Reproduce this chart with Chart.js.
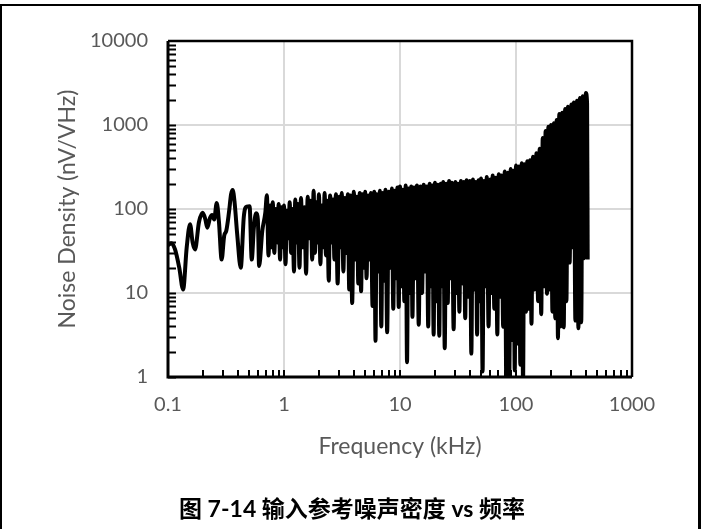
<!DOCTYPE html>
<html>
<head>
<meta charset="utf-8">
<script src="https://cdn.jsdelivr.net/npm/chart.js@4.4.1/dist/chart.umd.min.js"></script>
<style>
  html, body { margin: 0; padding: 0; background: #fff; overflow: hidden; }
  #fig { position: relative; width: 704px; height: 529px; overflow: hidden; }
  #frame { position: absolute; left: 0; top: 4px; width: 701px; height: 600px; box-sizing: border-box;
           border: 2px solid #000; border-right-width: 3px; border-bottom: none; }
  #noise-chart { position: absolute; left: 0; top: 0; }
  #caption { position: absolute; left: 0; top: 490px; width: 704px; line-height: 30px; text-align: center;
             font: bold 23px "Lato", "Noto Sans CJK SC", sans-serif; color: #000; }
</style>
</head>
<body>
<div id="fig">
  <div id="frame"></div>
  <canvas id="noise-chart" width="704" height="529"></canvas>
  <div id="caption">图 7-14 输入参考噪声密度 vs 频率</div>
</div>
<script>
// Input-referred noise density vs frequency, log-log
const xTicks = [0.1, 1, 10, 100, 1000];
const yTicks = [1, 10, 100, 1000, 10000];
const xDecades = [0.1, 1, 10, 100];
const yDecades = [1, 10, 100, 1000];
const minorSteps = [1, 2, 3, 4, 5, 6, 7, 8, 9];

// 0.1 .. 0.78 kHz : single visible trace
const freqA = [0.100, 0.107, 0.115, 0.125, 0.135, 0.145, 0.155, 0.163, 0.171, 0.185, 0.199, 0.210, 0.218, 0.230,
  0.240, 0.250, 0.263, 0.275, 0.290, 0.305, 0.318, 0.335, 0.350, 0.361, 0.375, 0.395, 0.424, 0.450, 0.477, 0.505,
  0.527, 0.550, 0.574, 0.595, 0.610, 0.650, 0.690, 0.712, 0.735, 0.760, 0.780];
const noiseA = [37, 39, 33, 20, 11, 35, 66, 40, 33, 70, 90, 75, 60, 78,
  85, 75, 118, 70, 25, 48, 55, 90, 150, 168, 120, 50, 20, 80, 107, 108,
  25, 60, 89, 75, 21, 55, 90, 146, 28, 110, 35];

// 0.8 .. 9.75 kHz
const freqB = [0.8, 0.825, 0.85, 0.875, 0.9, 0.925, 0.95, 0.975,
  1.00, 1.03, 1.06, 1.09, 1.12, 1.15, 1.18, 1.22, 1.25, 1.28, 1.32, 1.36, 1.40, 1.45, 1.50, 1.55, 1.60, 1.65, 1.70, 1.75,
  1.80, 1.85, 1.90, 1.95, 2.00, 2.06, 2.12, 2.18, 2.24, 2.30, 2.36, 2.43, 2.50, 2.58, 2.65, 2.72, 2.80, 2.90, 3.00, 3.07,
  3.15, 3.25, 3.35, 3.45, 3.55, 3.65, 3.75, 3.87, 4.00, 4.12, 4.25, 4.37, 4.50, 4.62, 4.75, 4.87, 5.00, 5.15, 5.30, 5.45,
  5.60, 5.80, 6.00, 6.15, 6.30, 6.50, 6.70, 6.90, 7.10, 7.30, 7.50, 7.75, 8.00, 8.25, 8.50, 8.75, 9.00, 9.25, 9.50, 9.75];
const noiseB = [120, 30, 100, 40, 115, 25, 105, 35,
  110, 22, 95, 45, 120, 30, 100, 18, 130, 40, 115, 20, 135, 35, 105, 17, 140, 45, 125, 25,
  165, 30, 120, 40, 150, 22, 110, 35, 155, 28, 125, 14, 145, 40, 130, 25, 150, 13, 140, 35,
  155, 18, 135, 30, 150, 11, 145, 7.6, 160, 25, 140, 13, 155, 10.5, 150, 20, 160, 15, 145, 25,
  155, 7, 160, 2.7, 150, 18, 165, 4, 155, 14, 170, 3.4, 160, 20, 175, 6.5, 165, 15, 180, 6.8];

// 10 .. 97.5 kHz
const freqC = [10.0, 10.3, 10.6, 10.9, 11.2, 11.5, 11.8, 12.2, 12.5, 12.8, 13.2, 13.6, 14.0, 14.5, 15.0, 15.5,
  16.0, 16.5, 17.0, 17.5, 18.0, 18.5, 19.0, 19.5, 20.0, 20.6, 21.2, 21.8, 22.4, 23.0, 23.6, 24.3, 25.0, 25.8,
  26.5, 27.2, 28.0, 29.0, 30.0, 30.7, 31.5, 32.5, 33.5, 34.5, 35.5, 36.5, 37.5, 38.7, 40.0, 41.2, 42.5, 43.7,
  45.0, 46.2, 47.5, 48.7, 50.0, 51.5, 53.0, 54.5, 56.0, 58.0, 60.0, 61.5, 63.0, 65.0, 67.0, 69.0, 71.0, 73.0,
  75.0, 77.5, 80.0, 82.5, 85.0, 87.5, 90.0, 92.5, 95.0, 97.5];
const noiseC = [185, 12, 170, 8, 190, 1.5, 175, 10, 185, 5.2, 180, 15, 190, 4.2, 185, 10,
  195, 18, 185, 4, 200, 12, 190, 3.2, 205, 8, 195, 3.1, 200, 12, 210, 2.2, 200, 7.6,
  215, 15, 205, 3.7, 210, 10, 200, 6, 215, 13, 210, 5, 220, 9, 215, 1.9, 225, 11,
  210, 3.2, 220, 8, 230, 1.16, 215, 12, 240, 4, 225, 10, 250, 6.5, 235, 3.2, 260, 9,
  250, 3.97, 280, 0.85, 270, 1.07, 300, 2.75, 285, 1.2];

// 100 .. 415 kHz : steep rise at the top end
const freqD = [100, 103, 106, 109, 112, 115, 118, 122, 125, 128, 132, 136, 140, 145, 150, 155, 160, 165,
  170, 175, 180, 185, 190, 195, 200, 206, 212, 218, 224, 230, 236, 243, 250, 258, 265, 272, 280, 290,
  300, 307, 315, 325, 335, 345, 355, 365, 375, 387, 400, 410, 415];
const noiseD = [330, 2.5, 320, 1.4, 350, 0.85, 340, 6, 370, 6.5, 380, 4.3, 420, 11, 460, 8, 520, 5.6,
  700, 12, 850, 9.8, 950, 11, 1000, 6, 1050, 5, 1150, 2.9, 1350, 4, 1400, 3.9, 1550, 8, 1650, 23,
  1750, 35, 1850, 4.7, 1950, 3.8, 2100, 4.5, 2200, 26, 2400, 1800, 25];

const seriesF = [freqA, freqB, freqC, freqD];
const seriesN = [noiseA, noiseB, noiseC, noiseD];

document.addEventListener('DOMContentLoaded', function () {
  const points = seriesF.flatMap((f, i) => f.map((x, j) => ({ x: x, y: seriesN[i][j] })));

  // inner minor ticks + plot frame, drawn on top of the trace
  const framePlugin = {
    id: 'frameTicks',
    afterDatasetsDraw(chart) {
      const c = chart.ctx;
      const a = chart.chartArea;
      const xs = chart.scales.x;
      const ys = chart.scales.y;
      c.save();
      c.strokeStyle = '#000';
      c.lineWidth = 2;
      c.beginPath();
      yDecades.forEach(d => minorSteps.forEach(k => {
        const py = Math.round(ys.getPixelForValue(d * k)) + 0.5;
        c.moveTo(a.left, py);
        c.lineTo(a.left + 8, py);
      }));
      xDecades.forEach(d => minorSteps.forEach(k => {
        const px = Math.round(xs.getPixelForValue(d * k));
        c.moveTo(px, a.bottom);
        c.lineTo(px, a.bottom - 7);
      }));
      c.stroke();

      c.lineWidth = 3;
      c.beginPath();
      c.moveTo(a.left, a.top);
      c.lineTo(a.left, a.bottom);
      c.lineTo(a.right, a.bottom);
      c.stroke();
      c.lineWidth = 2.5;
      c.beginPath();
      c.moveTo(a.left, a.top);
      c.lineTo(a.right, a.top);
      c.lineTo(a.right, a.bottom);
      c.stroke();
      c.restore();
    }
  };

  const tickFont = { family: 'Lato', size: 20 };
  const titleFont = { family: 'Lato', size: 23 };
  const gray = '#595959';

  new Chart(document.getElementById('noise-chart').getContext('2d'), {
    type: 'line',
    data: {
      datasets: [{
        data: points,
        borderColor: '#000',
        borderWidth: 4,
        pointRadius: 0,
        fill: false,
        cubicInterpolationMode: 'monotone'
      }]
    },
    options: {
      responsive: false,
      animation: false,
      devicePixelRatio: 1,
      layout: { padding: { left: 0, top: 41, right: 72, bottom: 59 } },
      plugins: { legend: { display: false }, tooltip: { enabled: false } },
      scales: {
        x: {
          type: 'logarithmic',
          min: 0.1,
          max: 1000,
          afterBuildTicks: s => { s.ticks = xTicks.map(v => ({ value: v })); },
          afterFit: s => { s.height = 93; },
          grid: { color: '#d9d9d9', lineWidth: 2, drawTicks: false },
          border: { display: false },
          ticks: { color: gray, font: tickFont, padding: 16, maxRotation: 0, autoSkip: false, callback: v => String(v) },
          title: { display: true, text: 'Frequency (kHz)', color: gray, font: titleFont, padding: { top: 0, bottom: 10 } }
        },
        y: {
          type: 'logarithmic',
          min: 1,
          max: 10000,
          afterBuildTicks: s => { s.ticks = yTicks.map(v => ({ value: v })); },
          afterFit: s => { s.width = 168; },
          grid: { color: '#d9d9d9', lineWidth: 2, drawTicks: false },
          border: { display: false },
          ticks: { color: gray, font: tickFont, padding: 20, autoSkip: false, callback: v => String(v) },
          title: { display: true, text: 'Noise Density (nV/VHz)', color: gray, font: titleFont, padding: { top: 54, bottom: 0 } }
        }
      }
    },
    plugins: [framePlugin]
  });
});
</script>
</body>
</html>
